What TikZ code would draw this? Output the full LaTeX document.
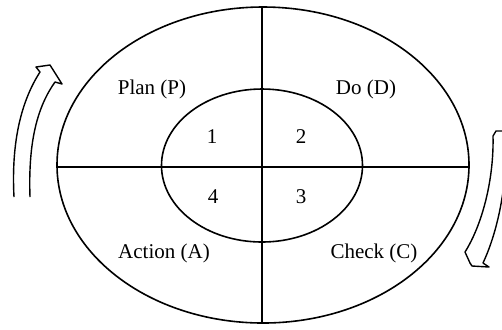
\documentclass[tikz,border=0pt]{standalone}
\usepackage{fontspec}
\setmainfont{Liberation Serif}
\begin{document}
\begin{tikzpicture}[x=0.5pt,y=-0.5pt,line join=round,
    ring/.style={line width=0.8pt},
    cross/.style={line width=0.8pt},
    turn/.style={line width=0.7pt},
    stage/.style={font=\fontsize{10.5}{12}\selectfont},
    quad/.style={font=\fontsize{10.5}{12}\selectfont}]
    \useasboundingbox (0,0) rectangle (502,329);
    \clip (0,0) rectangle (502,329);

    % Centre
    \coordinate (c) at (263,165);

    % Ellipses
    \draw[ring] (c) ellipse [x radius=103pt, y radius=79pt];
    \draw[ring] (262,165.5) ellipse [x radius=50.25pt, y radius=38.25pt];

    % Cross
    \coordinate (w) at (57,167);
    \coordinate (e) at (470,167);
    \coordinate (n) at (262,7);
    \coordinate (s) at (262,323);
    \draw[cross] (w) -- (e);
    \draw[cross] (n) -- (s);

    % Stages
    \node[stage] (plan) at (152,89) {Plan (P)};
    \node[stage] (do) at (366,89) {Do (D)};
    \node[stage] (action) at (164,253) {Action (A)};
    \node[stage] (check) at (374,253) {Check (C)};

    % Quadrants
    \node[quad] (q1) at (212,137) {1};
    \node[quad] (q2) at (301,137) {2};
    \node[quad] (q3) at (301,197) {3};
    \node[quad] (q4) at (213,197) {4};

    % Left arrow
    \draw[turn] (14,197) .. controls (11,140) and (22,100) .. (40,72)
        -- (36,67) -- (50,65) -- (62,84) -- (55,82)
        .. controls (38,106) and (28,140) .. (30,197);

    % Right arrow
    \draw[turn] (508,131) -- (496,131) -- (493,136)
        .. controls (494,180) and (482,225) .. (465,252)
        -- (470,263) -- (472,266) -- (489,267) -- (483,263)
        .. controls (496,235) and (506,195) .. (507,140);
\end{tikzpicture}
\end{document}
